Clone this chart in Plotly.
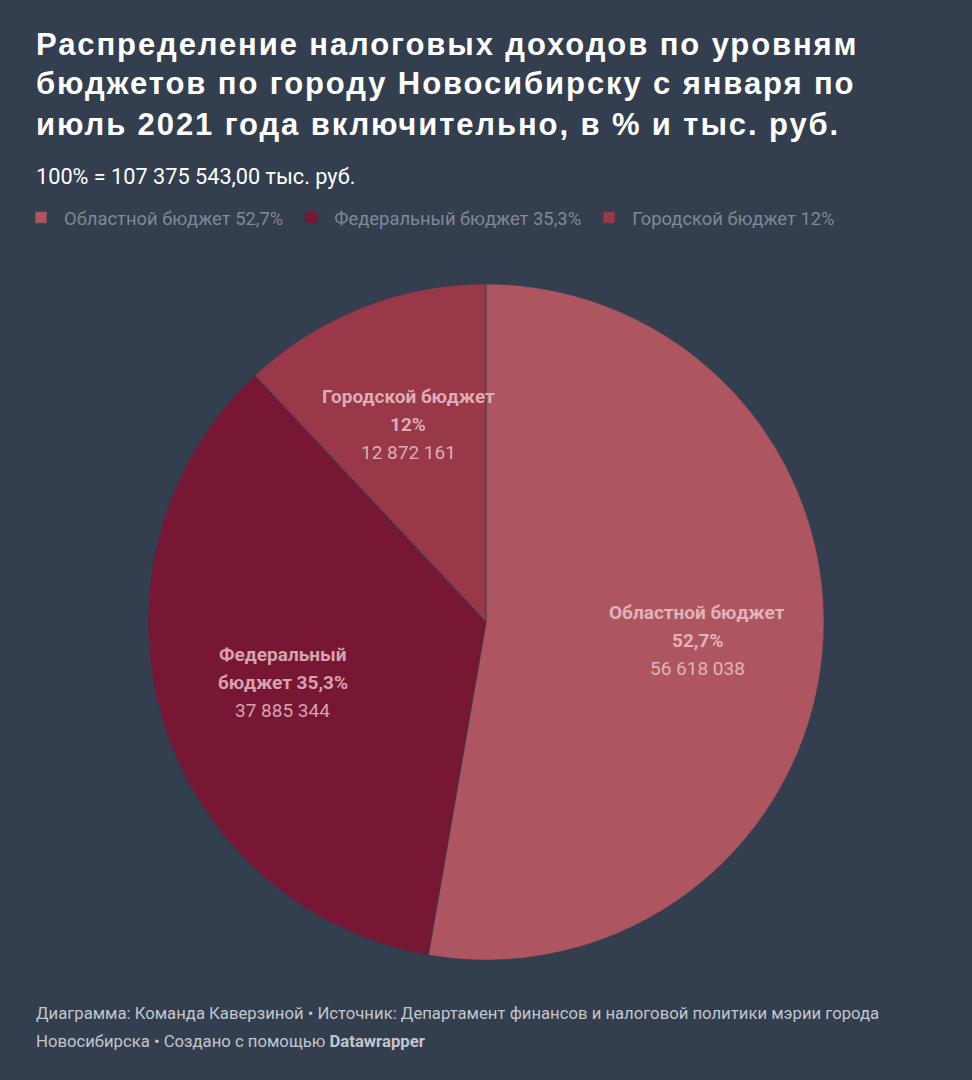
import math
import plotly.graph_objects as go

legend_labels = ["Областной бюджет 52,7%", "Федеральный бюджет 35,3%", "Городской бюджет 12%"]
values = [56618038, 37885344, 12872161]
label_lines = [
    ["<b>Областной бюджет</b>", "<b>52,7%</b>", "56 618 038"],
    ["<b>Федеральный</b>", "<b>бюджет 35,3%</b>", "37 885 344"],
    ["<b>Городской бюджет</b>", "<b>12%</b>", "12 872 161"],
]
colors = ["#ae5660", "#781733", "#983849"]
text_colors = ["#e0b3b9", "#d4a3ae", "#ddacb4"]
title_lines = [
    "Распределение налоговых доходов по уровням",
    "бюджетов по городу Новосибирску с января по",
    "июль 2021 года включительно, в % и тыс. руб.",
]
subtitle = "100% = 107 375 543,00 тыс. руб."
footer_lines = [
    "Диаграмма: Команда Каверзиной • Источник: Департамент финансов и налоговой политики мэрии города",
    "Новосибирска • Создано с помощью <b>Datawrapper</b>",
]

W, H = 972, 1080
BG = "#333e4e"
cx, cy, r = 486, 622, 338

fig = go.Figure(go.Pie(
    labels=legend_labels,
    values=values,
    textinfo="none",
    marker=dict(colors=colors, line=dict(color="rgba(51,62,78,0.55)", width=1.2)),
    sort=False,
    direction="clockwise",
    rotation=0,
    hole=0,
    domain=dict(x=[(cx - r) / W, (cx + r) / W], y=[1 - (cy + r) / H, 1 - (cy - r) / H]),
    hoverinfo="label+value",
))

def px(x):
    return x / W

def py(y):
    return 1 - y / H

annotations = []
for i, line in enumerate(title_lines):
    annotations.append(dict(
        text=f'<b><span style="letter-spacing:1.9px">{line}</span></b>',
        x=px(34), y=py(44 + 40 * i), xref="paper", yref="paper", xanchor="left", yanchor="middle",
        align="left", showarrow=False,
        font=dict(family="Liberation Sans", size=31, color="#ffffff")))
annotations.append(dict(
    text=subtitle, x=px(34), y=py(176), xref="paper", yref="paper", xanchor="left", yanchor="middle",
    align="left", showarrow=False, font=dict(family="Roboto", size=21.7, color="#ffffff")))
for i, line in enumerate(footer_lines):
    annotations.append(dict(
        text=line, x=px(34), y=py(1013 + 28 * i), xref="paper", yref="paper", xanchor="left", yanchor="middle",
        align="left", showarrow=False, font=dict(family="Roboto", size=16.7, color="#c2c6cc")))

# slice labels at 0.627 r along each slice's mid-angle (clockwise from 12 o'clock)
total = sum(values)
cum = 0
for i, v in enumerate(values):
    theta = 2 * math.pi * (cum + v / 2) / total
    cum += v
    lx = cx + 0.627 * r * math.sin(theta)
    ly = cy - 0.627 * r * math.cos(theta)
    for j, t in enumerate(label_lines[i]):
        annotations.append(dict(
            text=t, x=px(lx), y=py(ly + 28 * (j - 1)), xref="paper", yref="paper",
            xanchor="center", yanchor="middle", showarrow=False,
            font=dict(family="Roboto", size=19, color=text_colors[i])))

fig.update_layout(
    width=W, height=H,
    paper_bgcolor=BG, plot_bgcolor=BG,
    margin=dict(l=0, r=0, t=0, b=0),
    showlegend=True,
    legend=dict(
        orientation="h", x=px(18), xanchor="left", y=py(199), yanchor="top",
        itemwidth=36,
        font=dict(family="Roboto", size=18.4, color="#808994"),
        bgcolor="rgba(0,0,0,0)", itemclick=False, itemdoubleclick=False,
    ),
    annotations=annotations,
)

fig.write_html("out.html", config={"displayModeBar": False},
               post_script="document.body.style.margin='0';document.body.style.background='#333e4e';")
